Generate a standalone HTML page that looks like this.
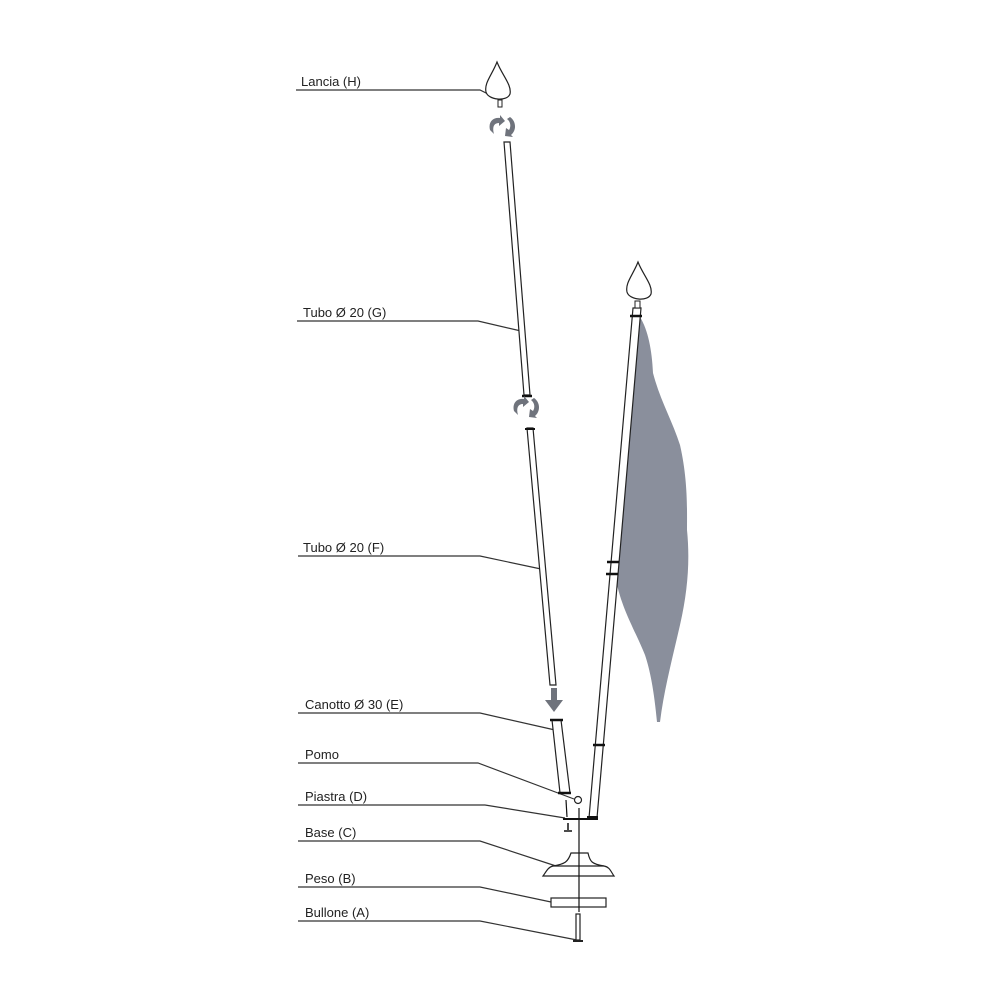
<!DOCTYPE html>
<html><head><meta charset="utf-8"><style>
html,body{margin:0;padding:0;background:#fff;}
svg{display:block}
text{font-family:"Liberation Sans",Arial,sans-serif;font-size:13px;fill:#222}
</style></head><body>
<svg width="1000" height="1000" viewBox="0 0 1000 1000" xmlns="http://www.w3.org/2000/svg">
<g stroke="#333" stroke-width="1.2" fill="none">
<!-- leader lines -->
<polyline points="296,90 480,90 492,96"/>
<polyline points="297,321 478,321 521,331"/>
<polyline points="298,556 480,556 541,569"/>
<polyline points="298,713 480,713 555,730"/>
<polyline points="298,763 478,763 574,799"/>
<polyline points="298,805 485,805 565,818"/>
<polyline points="298,841 480,841 556,866"/>
<polyline points="298,887 480,887 551,902"/>
<polyline points="298,921 480,921 577,940"/>
</g>
<g>
<text x="301" y="86">Lancia (H)</text>
<text x="303" y="317">Tubo  Ø 20 (G)</text>
<text x="303" y="552">Tubo  Ø 20 (F)</text>
<text x="305" y="709">Canotto Ø 30 (E)</text>
<text x="305" y="759">Pomo</text>
<text x="305" y="801">Piastra (D)</text>
<text x="305" y="837">Base (C)</text>
<text x="305" y="883">Peso (B)</text>
<text x="305" y="917">Bullone (A)</text>
</g>
<!-- flag -->
<path d="M640,317 C648,330 652,350 653,373 C660,400 672,420 680,445 C688,480 687,510 687,530 C690,560 688,590 680,625 C672,660 664,690 660,722 L657,722 C654,690 650,670 645,655 C635,630 622,610 616,580 L623,500 L632,400 Z" fill="#8a8f9c"/>
<g stroke="#222" stroke-width="1.2" fill="#fff">
<!-- Lancia H -->
<path d="M497,62 C492,75 484,83 486,92 C488,100 507,102 510,94 C512,85 502,75 497,62 Z"/>
<rect x="498" y="100" width="4" height="7" stroke-width="1"/>
<!-- tube G -->
<polygon points="504,142 510,142 530,395 524,395"/>
<!-- tube F -->
<polygon points="527,428 533,428 556,685 550,685"/>
<!-- canotto E -->
<polygon points="552,720 561,720 570,793 560,793"/>
<!-- right pole -->
<polygon points="633,308 641,308 597,818 589,818"/>
<!-- right lancia -->
<path d="M638,262 C633,275 625,283 627,292 C629,300 648,302 651,294 C653,285 643,275 638,262 Z"/>
<rect x="635" y="301" width="5" height="7" stroke-width="1"/>
<!-- pomo -->
<circle cx="578" cy="800" r="3.5"/>
<!-- base -->
<path d="M571,853 L588,853 C590,862 592,864 604,866 C610,867 611,872 614,876 L543,876 C546,872 548,867 553,866 C565,864 568,862 571,853 Z"/>
<line x1="553" y1="866" x2="604" y2="866"/>
<!-- peso -->
<rect x="551" y="898" width="55" height="9"/>
<!-- bullone -->
<rect x="576" y="914" width="4" height="26"/>
<line x1="573" y1="941" x2="583" y2="941" stroke-width="2"/>
</g>
<g stroke="#111" fill="none">
<line x1="579" y1="808" x2="579" y2="912" stroke-width="1.2"/>
<line x1="563" y1="819" x2="596" y2="819" stroke-width="2"/>
<line x1="566" y1="800" x2="567" y2="817" stroke-width="1.2"/>
<line x1="568" y1="823" x2="568" y2="830" stroke-width="1.5"/>
<line x1="564" y1="831" x2="572" y2="831" stroke-width="1.5"/>
<!-- bands -->
<line x1="522" y1="396" x2="532" y2="396" stroke-width="2.5"/>
<line x1="525" y1="429" x2="535" y2="429" stroke-width="2"/>
<line x1="550" y1="720" x2="563" y2="720" stroke-width="2.5"/>
<line x1="558" y1="793" x2="571" y2="793" stroke-width="2.5"/>
<line x1="587" y1="818" x2="598" y2="818" stroke-width="4"/>
<line x1="593" y1="745" x2="605" y2="745" stroke-width="2.5"/>
<line x1="607" y1="562" x2="619" y2="562" stroke-width="2.5"/>
<line x1="606" y1="574" x2="618" y2="574" stroke-width="2.5"/>
<line x1="630" y1="316" x2="642" y2="316" stroke-width="2.5"/>
</g>
<!-- rotation icons -->
<g fill="#6f737c">
<path d="M490,130 C488,122 493,117 500,118 L500,115 L505,121 L499,126 L499,123 C494,123 492,127 494,134 Z"/>
<path d="M510,117 C516,121 517,130 511,135 L513,137 L505,136 L506,128 L509,130 C511,127 511,122 507,119 Z"/>
<path d="M514,411 C512,403 517,398 524,399 L524,396 L529,402 L523,407 L523,404 C518,404 516,408 518,415 Z"/>
<path d="M534,398 C540,402 541,411 535,416 L537,418 L529,417 L530,409 L533,411 C535,408 535,403 531,400 Z"/>
<!-- down arrow -->
<path d="M551,688 L557,688 L557,700 L563,700 L554,712 L545,700 L551,700 Z"/>
</g>
</svg>
</body></html>
